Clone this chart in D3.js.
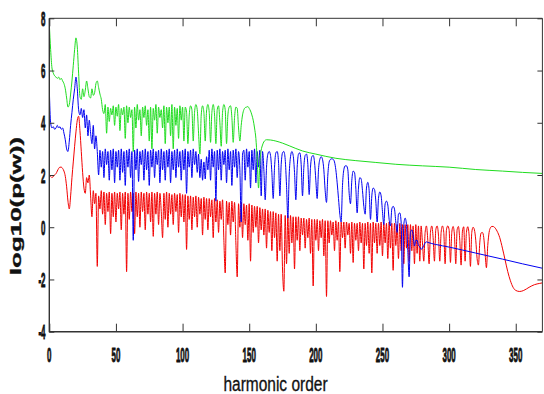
<!DOCTYPE html>
<html>
<head>
<meta charset="utf-8">
<script src="https://cdn.jsdelivr.net/npm/d3@7"></script>
<style>
  html, body { margin: 0; padding: 0; background: #fff; }
  svg { display: block; }
</style>
</head>
<body>
<div id="chart"></div>
<script>
// ---- tick labels ----
const xTicks = [0, 50, 100, 150, 200, 250, 300, 350];
const yTicks = [-4, -2, 0, 2, 4, 6, 8];

// ---- green series: values at harmonic orders 0..162, then smooth tail ----
const greenY = [7.8,6.8,6.1,5.9,5.8,5.75,5.7,5.75,5.65,5.7,
5.6,5.5,5.3,4.95,4.6,4.7,5.1,5.6,6.2,6.8,
7.25,6.9,5.9,5.0,4.9,5.3,5.0,5.25,5.6,5.3,
5.0,4.95,5.3,5.05,5.15,5.5,5.6,5.35,5.1,4.9,
4.5,4.35,4.7,3.6,4.6,4.05,4.55,4.3,4.65,3.9,
4.6,4.25,4.7,3.7,4.55,4.3,4.6,3.4,4.65,4.0,
4.6,4.2,4.5,2.9,4.6,3.8,4.7,4.1,4.5,3.5,
4.6,4.2,4.65,3.9,4.5,3.3,4.6,3.0,4.55,4.1,
4.7,3.6,4.6,4.2,4.5,3.8,4.65,3.2,4.6,4.0,
4.6,3.5,4.7,3.0,4.6,3.9,4.55,3.4,4.65,4.1,
4.6,3.3,4.6,4.4,3.2,4.3,4.65,4.5,3.3,4.4,
4.7,4.5,3.6,2.8,4.3,4.65,4.4,3.3,4.45,4.7,
4.4,3.25,4.4,4.7,4.3,3.2,4.5,4.65,4.0,3.1,
4.4,4.7,4.5,3.2,4.3,4.6,4.65,4.2,3.25,4.2,
4.6,4.55,3.8,3.3,3.9,4.3,4.5,4.58,4.6,4.62,
4.55,4.45,4.3,4.1,3.8,3.4,2.6,1.5,2.5,2.95,
3.15,3.27,3.33];
const greenTailX = [163,166,170,175,180,190,200,215,230,245,260,280,300,320,340,355,370];
const greenTailY = [3.35,3.34,3.3,3.22,3.12,2.92,2.8,2.64,2.55,2.48,2.41,2.35,2.3,2.21,2.15,2.1,2.06];

// ---- blue series: values at harmonic orders 0..284, then smooth tail ----
const blueY = [5.3,4.0,3.8,3.85,3.75,3.8,3.9,3.8,3.85,3.75,
3.8,3.6,3.35,3.0,2.9,3.3,3.9,4.4,4.9,5.3,
5.75,5.3,4.5,4.3,4.55,4.2,4.5,3.8,4.3,3.5,
4.1,3.6,3.2,3.9,3.0,3.5,2.9,2.0,2.95,2.3,
2.9,1.9,3.0,2.4,2.9,1.8,2.95,2.2,3.0,1.7,
2.9,2.3,2.95,1.8,3.0,2.1,2.9,1.6,2.95,2.3,
3.0,1.9,2.9,-0.5,2.95,2.2,3.0,1.75,2.9,2.4,
2.95,1.8,3.0,2.2,2.9,1.6,2.95,2.3,3.0,1.9,
2.9,2.4,2.95,1.7,3.0,2.2,2.9,1.8,2.95,2.3,
3.0,1.7,2.9,2.2,2.95,1.9,3.0,2.3,2.9,1.8,
2.95,2.2,3.0,1.3,2.9,2.3,2.95,1.9,3.0,2.4,
2.9,2.1,2.8,1.9,2.6,1.8,2.5,1.85,2.7,2.2,
2.95,1.8,3.0,2.3,2.9,1.0,2.95,2.2,3.0,1.8,
2.9,2.4,2.95,1.7,3.0,2.2,2.9,1.6,2.95,2.3,
3.0,1.9,2.9,2.2,0.2,2.8,2.95,1.8,3.0,2.3,
2.9,1.5,2.95,2.2,3.0,1.7,2.9,2.3,2.95,1.2,
2.9,2.2,1.05,2.3,2.8,2.9,2.75,2.1,1.1,2.3,
2.85,2.9,2.5,1.2,2.4,2.85,2.9,2.6,1.6,0.35,
2.0,2.7,2.9,2.75,2.1,1.05,2.3,2.8,2.85,2.4,
1.2,2.3,2.75,2.8,2.4,1.25,2.3,2.7,2.75,2.5,
1.8,1.1,2.2,2.6,2.7,2.6,2.2,1.4,0.95,2.0,
2.5,2.6,2.62,2.6,2.5,2.2,1.7,1.1,0.5,0.2,
1.6,2.2,2.35,2.35,2.2,1.3,0.9,1.8,2.15,2.1,
1.5,0.55,1.5,1.9,1.85,1.4,0.8,0.5,1.5,1.72,
1.4,0.3,1.2,1.5,1.45,1.0,0.2,1.1,1.35,1.2,
0.6,0.1,0.9,1.0,0.85,0.3,0.05,0.7,0.8,0.7,
0.2,-0.2,0.5,0.55,0.2,-2.3,0.1,0.35,0.1,-0.9,
-1.9,-0.2,-0.1,-0.3,-0.72,-0.5,-0.5,-0.7,-0.75,-0.85,
-0.8,-0.7,-0.6,-0.56,-0.58];
const blueTailX = [290,300,320,340,355,370];
const blueTailY = [-0.66,-0.76,-0.99,-1.22,-1.4,-1.57];

// ---- red series: values at harmonic orders 0..333, then smooth tail ----
const redY = [1.95,1.95,1.9,1.95,2.0,2.05,2.15,2.25,2.3,2.3,
2.25,2.15,1.95,1.55,1.0,0.7,1.2,1.9,2.5,3.1,
3.65,4.1,4.25,3.7,2.9,2.1,1.5,1.3,1.9,1.7,
2.0,1.2,0.4,1.4,0.9,1.3,-1.5,1.2,0.7,1.4,
0.5,1.35,0.1,1.3,0.6,1.35,-0.25,1.3,0.4,1.35,
0.2,1.3,0.7,1.35,-0.1,1.3,0.5,1.35,-1.7,1.3,
0.3,1.35,0.6,1.3,-0.25,1.35,0.4,1.3,0.0,1.35,
0.6,1.3,-0.1,1.35,0.5,1.3,0.2,1.35,-0.35,1.3,
0.5,1.35,0.1,1.3,0.6,-0.4,1.3,0.3,1.35,0.0,
1.3,0.5,1.25,0.1,1.3,0.6,1.25,-0.2,1.3,0.4,
1.25,0.2,1.25,-0.85,1.2,0.3,1.2,-0.1,1.15,0.4,
1.2,0.0,1.15,0.5,1.1,-0.3,1.15,0.3,1.1,-0.1,
1.1,0.4,1.05,-0.4,1.1,0.2,1.05,-0.2,1.0,0.3,
1.05,-0.5,-1.75,1.0,0.1,0.95,-0.3,1.0,0.2,0.95,
-0.6,-1.9,0.9,0.0,0.95,-0.4,0.9,0.1,0.85,-0.5,
0.9,-1.3,0.85,-0.2,0.8,0.0,0.8,-0.6,0.75,-0.1,
0.7,-0.3,0.7,-0.8,0.65,-0.2,0.6,-0.9,0.6,-0.4,
0.55,-1.3,0.5,-0.9,0.5,-1.6,-2.45,0.45,-1.4,0.45,
-1.0,0.45,-0.6,0.4,-1.6,0.4,-0.5,0.4,-0.9,0.35,
-0.3,0.35,-0.8,0.3,-0.4,0.35,-1.0,0.3,-2.25,0.3,
-0.5,0.3,-0.9,0.25,-0.4,0.3,-1.1,0.25,-2.65,0.25,
-0.6,0.25,-0.3,0.2,-0.9,0.25,-0.5,0.2,-1.7,0.2,
-0.4,0.2,-0.8,0.2,-0.3,0.15,-1.0,0.2,-1.35,0.15,
-0.5,0.15,-0.9,0.2,-0.6,0.15,-1.6,0.15,-0.7,0.2,
-1.0,0.15,-1.75,0.2,-0.6,0.15,-1.0,0.15,-0.7,0.2,
-1.1,0.15,-0.6,0.15,-1.2,0.2,-0.8,0.15,-1.65,0.15,
-0.7,0.1,-1.2,0.15,-0.9,0.1,-1.4,0.1,-0.8,0.1,
-1.3,0.1,-0.9,0.05,-1.4,0.1,-1.0,0.05,-1.3,0.05,
-0.6,-1.3,-0.2,0.05,-0.5,-1.4,-0.2,0.05,-0.4,-1.3,
-0.1,0.05,-0.3,-1.3,-0.2,0.05,-0.2,-1.4,-0.1,0.05,
-0.1,-1.35,-0.2,0.03,-0.3,-1.4,-0.1,0.03,-0.5,-1.45,
-0.15,0.02,-1.3,-0.2,0.02,-0.3,-1.5,-0.2,0.0,-0.1,
-0.5,-1.2,-1.45,-0.6,-0.22,-0.2,-0.4,-1.0,-1.55,-0.7,
-0.2,-0.02,0.03,0.03];
const redTailX = [334,336,338,340,342,344,346,348,350,353,356,360,364,368,370];
const redTailY = [0.0,-0.15,-0.4,-0.8,-1.25,-1.7,-2.05,-2.3,-2.42,-2.46,-2.42,-2.3,-2.2,-2.15,-2.13];

// ---- layout ----
const W = 544, H = 394;
const X0 = 49.3, X1 = 542.4, Y0 = 331.7, Y1 = 18.3;

const svg = d3.select('#chart').append('svg').attr('width', W).attr('height', H);
svg.append('rect').attr('width', W).attr('height', H).attr('fill', '#fff');

const x = d3.scaleLinear().domain([0, 370]).range([X0, X1]);
const y = d3.scaleLinear().domain([-4, 8]).range([Y0, Y1]);

svg.append('defs').append('clipPath').attr('id', 'clip')
  .append('rect').attr('x', X0).attr('y', Y1).attr('width', X1 - X0).attr('height', Y0 - Y1);

function pts(vals, tx, ty) {
  const a = vals.map((v, i) => [i, v]);
  return a.concat(tx.map((xx, i) => [xx, ty[i]]));
}

const line = d3.line().x(d => x(d[0])).y(d => y(d[1])).curve(d3.curveMonotoneX);
const plot = svg.append('g').attr('clip-path', 'url(#clip)');

const series = [
  { data: pts(redY, redTailX, redTailY), color: '#f20000' },
  { data: pts(blueY, blueTailX, blueTailY), color: '#0000f0' },
  { data: pts(greenY, greenTailX, greenTailY), color: '#1fdc1f' }
];
series.forEach(s => {
  plot.append('path').datum(s.data).attr('d', line)
    .attr('fill', 'none').attr('stroke', s.color).attr('stroke-width', 1)
    .attr('stroke-linejoin', 'round');
});

// ---- axes (ticks only, inward) ----
const axisColor = '#333';
function styleAxis(g) {
  g.select('.domain').remove();
  g.selectAll('text').remove();
  g.selectAll('line').attr('stroke', axisColor).attr('stroke-width', 1);
}
svg.append('g').attr('transform', `translate(0,${Y0})`)
  .call(d3.axisBottom(x).tickValues(xTicks).tickSize(-8)).call(styleAxis);
svg.append('g').attr('transform', `translate(0,${Y1})`)
  .call(d3.axisTop(x).tickValues(xTicks).tickSize(-8)).call(styleAxis);
svg.append('g').attr('transform', `translate(${X0},0)`)
  .call(d3.axisLeft(y).tickValues(yTicks).tickSize(-5)).call(styleAxis);
svg.append('g').attr('transform', `translate(${X1},0)`)
  .call(d3.axisRight(y).tickValues(yTicks).tickSize(-5)).call(styleAxis);

// frame
svg.append('line').attr('x1', X0).attr('x2', X1).attr('y1', Y1).attr('y2', Y1).attr('stroke', axisColor).attr('stroke-width', 1);
svg.append('line').attr('x1', X1).attr('x2', X1).attr('y1', Y1).attr('y2', Y0).attr('stroke', axisColor).attr('stroke-width', 1);
svg.append('line').attr('x1', X0).attr('x2', X0).attr('y1', Y1).attr('y2', Y0 + 0.5).attr('stroke', axisColor).attr('stroke-width', 1.4);
svg.append('line').attr('x1', X0).attr('x2', X1).attr('y1', Y0).attr('y2', Y0).attr('stroke', axisColor).attr('stroke-width', 1.4);

// ---- tick labels (tall condensed bold) ----
const tickFont = 'Liberation Sans, Arial, sans-serif';
svg.append('g').selectAll('text').data(xTicks).join('text')
  .attr('transform', d => `translate(${x(d)},361.5) scale(0.57,1.5)`)
  .attr('text-anchor', 'middle')
  .attr('font-family', tickFont).attr('font-weight', 'bold').attr('font-size', 14)
  .attr('fill', '#111').attr('stroke', '#111').attr('stroke-width', 0.6)
  .text(d => d);
svg.append('g').selectAll('text').data(yTicks).join('text')
  .attr('transform', d => `translate(45.5,${y(d) + 7.5}) scale(0.57,1.5)`)
  .attr('text-anchor', 'end')
  .attr('font-family', tickFont).attr('font-weight', 'bold').attr('font-size', 14)
  .attr('fill', '#111').attr('stroke', '#111').attr('stroke-width', 0.6)
  .text(d => d);

// ---- axis titles ----
svg.append('text')
  .attr('transform', 'translate(275.5,391) scale(1,1.25)')
  .attr('text-anchor', 'middle')
  .attr('font-family', tickFont).attr('font-size', 15.5)
  .attr('fill', '#111').attr('stroke', '#111').attr('stroke-width', 0.25)
  .text('harmonic order');

svg.append('text')
  .attr('transform', 'translate(20.5,206) rotate(-90) scale(1.73,1)')
  .attr('text-anchor', 'middle')
  .attr('font-family', tickFont).attr('font-weight', 'bold').attr('font-size', 15)
  .attr('fill', '#111').attr('stroke', '#111').attr('stroke-width', 0.3)
  .text('log10(p(w))');
</script>
</body>
</html>
